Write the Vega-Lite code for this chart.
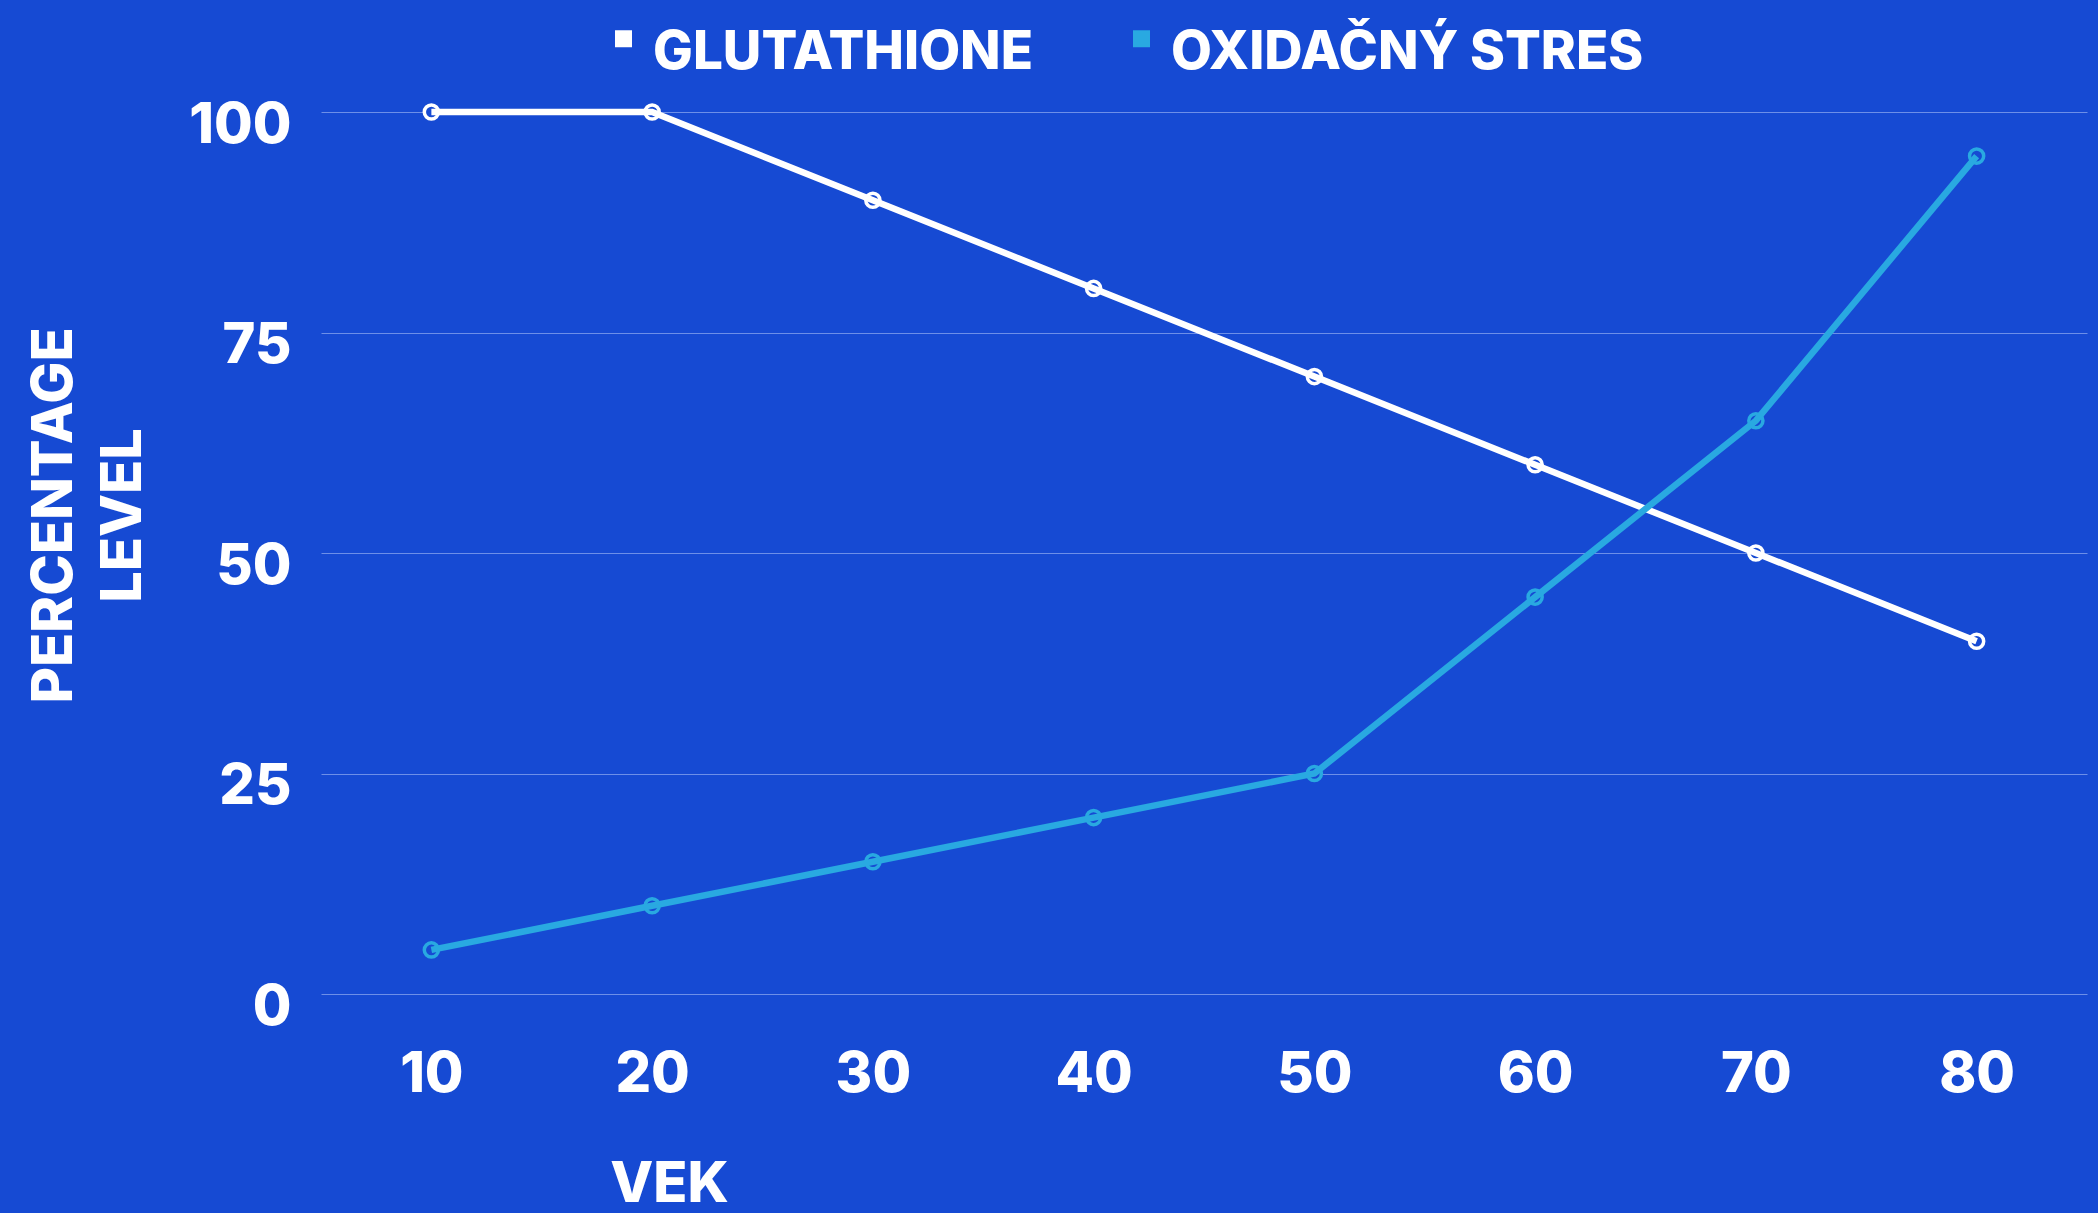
{
  "$schema": "https://vega.github.io/schema/vega-lite/v6.json",
  "width": 1766,
  "height": 882,
  "autosize": {"type": "none"},
  "padding": {"left": 321, "top": 112, "right": 11, "bottom": 219},
  "background": "#164ad3",
  "config": {
    "view": {"stroke": null},
    "font": "Inter",
    "axis": {"labelFont": "Inter", "titleFont": "Inter", "labelFontWeight": 800, "titleFontWeight": 800, "labelColor": "#ffffff", "titleColor": "#ffffff"},
    "legend": {"labelFont": "Inter", "labelFontWeight": 800, "labelColor": "#ffffff"}
  },
  "data": {
    "values": [
      {"vek": 10, "series": "GLUTATHIONE", "value": 100},
      {"vek": 20, "series": "GLUTATHIONE", "value": 100},
      {"vek": 30, "series": "GLUTATHIONE", "value": 90},
      {"vek": 40, "series": "GLUTATHIONE", "value": 80},
      {"vek": 50, "series": "GLUTATHIONE", "value": 70},
      {"vek": 60, "series": "GLUTATHIONE", "value": 60},
      {"vek": 70, "series": "GLUTATHIONE", "value": 50},
      {"vek": 80, "series": "GLUTATHIONE", "value": 40},
      {"vek": 10, "series": "OXIDAČNÝ STRES", "value": 5},
      {"vek": 20, "series": "OXIDAČNÝ STRES", "value": 10},
      {"vek": 30, "series": "OXIDAČNÝ STRES", "value": 15},
      {"vek": 40, "series": "OXIDAČNÝ STRES", "value": 20},
      {"vek": 50, "series": "OXIDAČNÝ STRES", "value": 25},
      {"vek": 60, "series": "OXIDAČNÝ STRES", "value": 45},
      {"vek": 70, "series": "OXIDAČNÝ STRES", "value": 65},
      {"vek": 80, "series": "OXIDAČNÝ STRES", "value": 95}
    ]
  },
  "encoding": {
    "x": {
      "field": "vek", "type": "quantitative",
      "scale": {"domain": [5, 85], "nice": false, "zero": false},
      "axis": {
        "values": [10, 20, 30, 40, 50, 60, 70, 80],
        "grid": false, "domain": false, "ticks": false,
        "labelFontSize": 56, "labelPadding": 53,
        "title": "VEK", "titleFontSize": 56,
        "titleX": 348, "titleY": 207, "titleAlign": "center", "titleBaseline": "alphabetic"
      }
    },
    "y": {
      "field": "value", "type": "quantitative",
      "scale": {"domain": [0, 100], "nice": false},
      "axis": {
        "values": [0, 25, 50, 75, 100],
        "grid": true, "gridColor": "#6d8fe8", "gridWidth": 1.2,
        "domain": false, "ticks": false,
        "labelFontSize": 56, "labelPadding": 30, "labelBaseline": "middle", "labelOffset": 13,
        "title": ["PERCENTAGE", "LEVEL"], "titleFontSize": 56, "titleLineHeight": 69,
        "titleAngle": -90, "titleX": -267, "titleY": 403, "titleAlign": "center", "titleBaseline": "middle"
      }
    },
    "color": {
      "field": "series", "type": "nominal",
      "scale": {"domain": ["GLUTATHIONE", "OXIDAČNÝ STRES"], "range": ["#ffffff", "#29a9e1"]},
      "legend": {
        "title": null, "orient": "none", "direction": "horizontal",
        "legendX": 276, "legendY": -100,
        "symbolType": "square", "symbolSize": 289, "symbolStrokeWidth": 0,
        "labelFontSize": 53, "labelOffset": 3, "columnPadding": 81,
        "labelBaseline": "middle", "labelLimit": 800,
        "encode": {
          "symbols": {"update": {"fill": {"scale": "color", "field": "value"}, "fillOpacity": {"value": 1}, "strokeWidth": {"value": 0}}},
          "labels": {"update": {"dy": {"value": 14}}}
        }
      }
    }
  },
  "layer": [
    {
      "mark": {"type": "point", "shape": "circle", "filled": false, "fill": "#164ad3", "fillOpacity": 1, "size": 200, "strokeWidth": 3.5, "opacity": 1}
    },
    {
      "mark": {"type": "line", "strokeWidth": 6.5}
    }
  ]
}
